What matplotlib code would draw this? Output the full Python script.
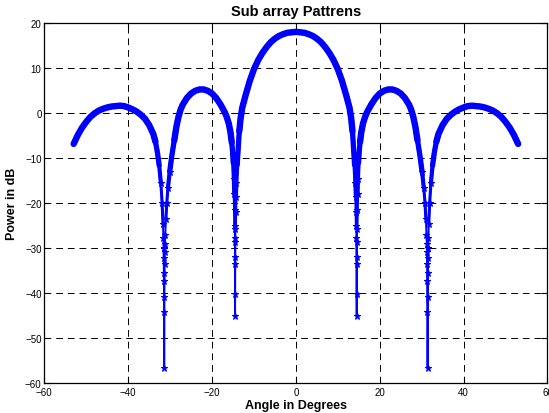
import numpy as np
import matplotlib.pyplot as plt

plt.rcParams['font.family'] = ['Liberation Sans', 'DejaVu Sans']

# values (angle in degrees, power in dB), left to right
outer_l_ang = [-53, -52, -51, -50, -49, -48, -47, -46, -45, -44, -43, -42, -41, -40, -39, -38,
               -37, -36, -35, -34, -33.5, -33, -32.6, -32.2, -31.9, -31.7, -31.6]
outer_l_db = [-6.8, -4.8, -3.2, -1.9, -0.8, 0.0, 0.6, 1.0, 1.3, 1.5, 1.6, 1.7, 1.6, 1.3, 0.9, 0.4,
              -0.3, -1.2, -2.6, -4.6, -6.3, -8.8, -11.6, -15.5, -20.0, -24.5, -27.8]

null1_l_ang = [-31.56, -31.52, -31.48, -31.45, -31.41, -31.38, -31.34, -31.31, -31.27, -31.23]
null1_l_db = [-30.0, -32.1, -35.5, -40.8, -56.6, -44.2, -37.2, -33.4, -30.8, -29.0]

inner_l_ang = [-31.15, -31.0, -30.8, -30.5, -30.1, -29.6, -29.0, -28.5, -28.0, -27.5, -27, -26, -25,
               -24, -23, -22, -21, -20, -19, -18, -17, -16.5, -16.0, -15.6, -15.3, -15.1, -14.95,
               -14.8, -14.7, -14.62]
inner_l_db = [-27.0, -23.5, -20.0, -16.5, -13.0, -9.5, -6.0, -3.0, -0.8, 0.8, 1.9, 3.4, 4.4,
              5.0, 5.3, 5.3, 5.0, 4.4, 3.4, 2.0, 0.3, -0.8, -2.3, -4.2, -6.4, -8.6, -11.0,
              -14.5, -18.0, -21.5]

null2_l_ang = [-14.57, -14.54, -14.52, -14.505, -14.49, -14.47, -14.45, -14.43]
null2_l_db = [-25.6, -28.7, -33.5, -45.0, -40.1, -31.9, -27.8, -25.0]

main_ang = [-14.38, -14.3, -14.2, -14.0, -13.8, -13.5, -13.2, -12.8, -12, -11, -10, -9, -8, -7,
            -6, -5, -4, -3, -2, -1, 0, 1, 2, 3, 4, 5, 6, 7, 8, 9, 10, 11, 12, 12.8, 13.2, 13.5,
            13.8, 14.0, 14.2, 14.3, 14.38]
main_db = [-22.0, -18.5, -15.5, -11.5, -8.5, -4.0, -1.2, 1.2, 4.0, 7.2, 9.8, 11.8, 13.4, 14.7,
           15.8, 16.6, 17.2, 17.6, 17.9, 18.0, 18.1, 18.0, 17.9, 17.6, 17.2, 16.6, 15.8, 14.7,
           13.4, 11.8, 9.8, 7.2, 4.0, 1.2, -1.2, -4.0, -8.5, -11.5, -15.5, -18.5, -22.0]

null2_r_ang = [14.43, 14.45, 14.47, 14.49, 14.505, 14.52, 14.54, 14.57]
null2_r_db = [-25.0, -27.8, -31.9, -40.1, -45.0, -33.5, -28.7, -25.6]

inner_r_ang = [14.62, 14.7, 14.8, 14.95, 15.1, 15.3, 15.6, 16.0, 16.5, 17, 18, 19, 20, 21, 22, 23,
               24, 25, 26, 27, 27.5, 28.0, 28.5, 29.0, 29.6, 30.1, 30.5, 30.8, 31.0, 31.15]
inner_r_db = [-21.5, -18.0, -14.5, -11.0, -8.6, -6.4, -4.2, -2.3, -0.8, 0.3, 2.0, 3.4, 4.4, 5.0,
              5.3, 5.3, 5.0, 4.4, 3.4, 1.9, 0.8, -0.8, -3.0, -6.0, -9.5, -13.0, -16.5, -20.0,
              -23.5, -27.0]

null1_r_ang = [31.23, 31.27, 31.31, 31.34, 31.38, 31.41, 31.45, 31.48, 31.52, 31.56]
null1_r_db = [-29.0, -30.8, -33.4, -37.2, -44.2, -56.6, -40.8, -35.5, -32.1, -30.0]

outer_r_ang = [31.6, 31.7, 31.9, 32.2, 32.6, 33, 33.5, 34, 35, 36, 37, 38, 39, 40, 41, 42, 43,
               44, 45, 46, 47, 48, 49, 50, 51, 52, 53]
outer_r_db = [-27.8, -24.5, -20.0, -15.5, -11.6, -8.8, -6.3, -4.6, -2.6, -1.2, -0.3, 0.4, 0.9,
              1.3, 1.6, 1.7, 1.6, 1.5, 1.3, 1.0, 0.6, 0.0, -0.8, -1.9, -3.2, -4.8, -6.8]

angle = np.concatenate([outer_l_ang, null1_l_ang, inner_l_ang, null2_l_ang, main_ang,
                        null2_r_ang, inner_r_ang, null1_r_ang, outer_r_ang])
power = np.concatenate([outer_l_db, null1_l_db, inner_l_db, null2_l_db, main_db,
                        null2_r_db, inner_r_db, null1_r_db, outer_r_db])

fig = plt.figure(figsize=(5.49, 4.14), dpi=100)
ax = fig.add_axes([0.0807, 0.0717, 0.9165, 0.8696])

# dense markers make the lobes look like a thick band which thins out into the nulls
for cut, lw in [(-8, 4.6), (-14, 3.8), (-20, 3.0), (-26, 2.2)]:
    ax.plot(angle, np.where(power > cut, power, np.nan), color='blue', lw=lw,
            solid_capstyle='round')
ax.plot(angle, power, color='blue', lw=1.4)
ax.plot(angle, np.where(power < -12, power, np.nan), ls='none', color='blue',
        marker='*', ms=5, mew=0.8)

ax.set_xlim(-60, 60)
ax.set_ylim(-60, 20)
ax.set_xticks(np.arange(-60, 61, 20))
ax.set_yticks(np.arange(-60, 21, 10))
ax.grid(True, color='black', lw=0.7, linestyle=(0, (7, 5)))
ax.tick_params(direction='in', length=4, width=0.8, labelsize=7, pad=2,
               top=True, right=True)
ax.tick_params(axis='x', pad=3)
for s in ax.spines.values():
    s.set_linewidth(0.9)

ax.set_title('Sub array Pattrens', fontsize=10.5, fontweight='bold', pad=6)
ax.set_xlabel('Angle in Degrees', fontsize=9, fontweight='bold', labelpad=1)
ax.set_ylabel('Power in dB', fontsize=9, fontweight='bold', labelpad=5)

fig.savefig('out.png', dpi=100)
